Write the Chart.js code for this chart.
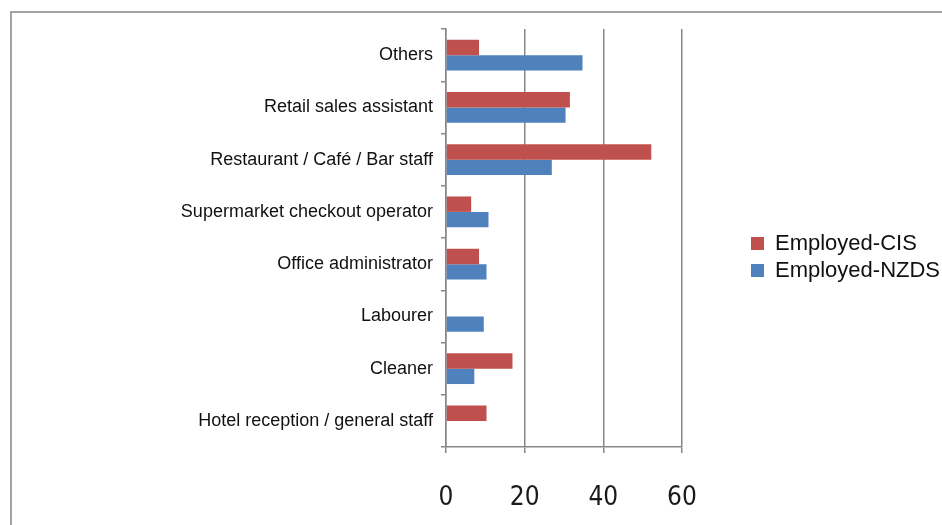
<!DOCTYPE html>
<html>
<head>
<meta charset="utf-8">
<script src="https://cdn.jsdelivr.net/npm/chart.js@4/dist/chart.umd.min.js"></script>
<style>
  html, body { margin: 0; padding: 0; background: #ffffff; overflow: hidden; }
  #frame { position: absolute; left: 10px; top: 11px; width: 1000px; height: 600px;
           border: 2px solid #a3a3a3; box-sizing: border-box; }
  #wrap { position: absolute; left: 0; top: 0; width: 942px; height: 525px; }
</style>
</head>
<body>
<div id="frame"></div>
<div id="wrap"><canvas id="c" width="942" height="525"></canvas></div>
<script>
// Occupations, listed top to bottom
const categories = [
  'Others',
  'Retail sales assistant',
  'Restaurant / Café / Bar staff',
  'Supermarket checkout operator',
  'Office administrator',
  'Labourer',
  'Cleaner',
  'Hotel reception / general staff'
];

// Share employed in each occupation
const employedCIS  = [8.4, 31.5, 52.2, 6.4, 8.4, 0, 16.9, 10.3];
const employedNZDS = [34.7, 30.4, 26.9, 10.8, 10.3, 9.6, 7.2, 0];

const seriesNames = ['Employed-CIS', 'Employed-NZDS'];
const xTicks = [0, 20, 40, 60];

const AXIS_GREY = '#878787';
const SANS = '"Liberation Sans", Arial, sans-serif';
const NARROW = '"Liberation Sans Narrow", "Arial Narrow", "DejaVu Sans Condensed", sans-serif';

// Keeps the legend clear of the plot, sitting out to the right
const legendPlacement = {
  id: 'legendPlacement',
  afterInit(chart) {
    const lg = chart.legend;
    const fit = lg.fit;
    lg.fit = function () { fit.call(this); this.width = 260; };
  },
  afterLayout(chart) {
    const lg = chart.legend;
    lg.left = 746;
    lg.right = 942;
    lg.top -= 20;
    lg.bottom -= 20;
  }
};

new Chart(document.getElementById('c'), {
  type: 'bar',
  data: {
    labels: categories,
    datasets: [
      { label: seriesNames[0], data: employedCIS, backgroundColor: '#C0504D', borderWidth: 0 },
      { label: seriesNames[1], data: employedNZDS, backgroundColor: '#4F81BD', borderWidth: 0 }
    ]
  },
  options: {
    indexAxis: 'y',
    responsive: false,
    animation: false,
    categoryPercentage: 0.59,
    barPercentage: 1.0,
    layout: { padding: { left: 0, top: 29, right: 0, bottom: 0 } },
    scales: {
      x: {
        type: 'linear',
        min: 0,
        max: 60,
        afterBuildTicks: s => { s.ticks = xTicks.map(v => ({ value: v })); },
        afterFit: s => { s.height = 78; },
        grid: { color: AXIS_GREY, lineWidth: 1.5, tickLength: 6 },
        border: { display: true, color: AXIS_GREY, width: 1.5 },
        ticks: {
          font: { family: NARROW, size: 26 },
          color: '#1a1a1a',
          padding: 30,
          maxRotation: 0
        }
      },
      y: {
        type: 'category',
        offset: true,
        afterFit: s => { s.width = 446; },
        grid: { offset: true, drawOnChartArea: false, color: AXIS_GREY, lineWidth: 1.5, tickLength: 5 },
        border: { display: true, color: AXIS_GREY, width: 1.5 },
        ticks: {
          font: { family: SANS, size: 18 },
          color: '#111111',
          padding: 8
        }
      }
    },
    plugins: {
      legend: {
        position: 'right',
        labels: {
          boxWidth: 13,
          boxHeight: 13,
          padding: 5,
          color: '#111111',
          font: { family: SANS, size: 22, lineHeight: 1 }
        }
      },
      tooltip: { enabled: false }
    }
  },
  plugins: [legendPlacement]
});
</script>
</body>
</html>
